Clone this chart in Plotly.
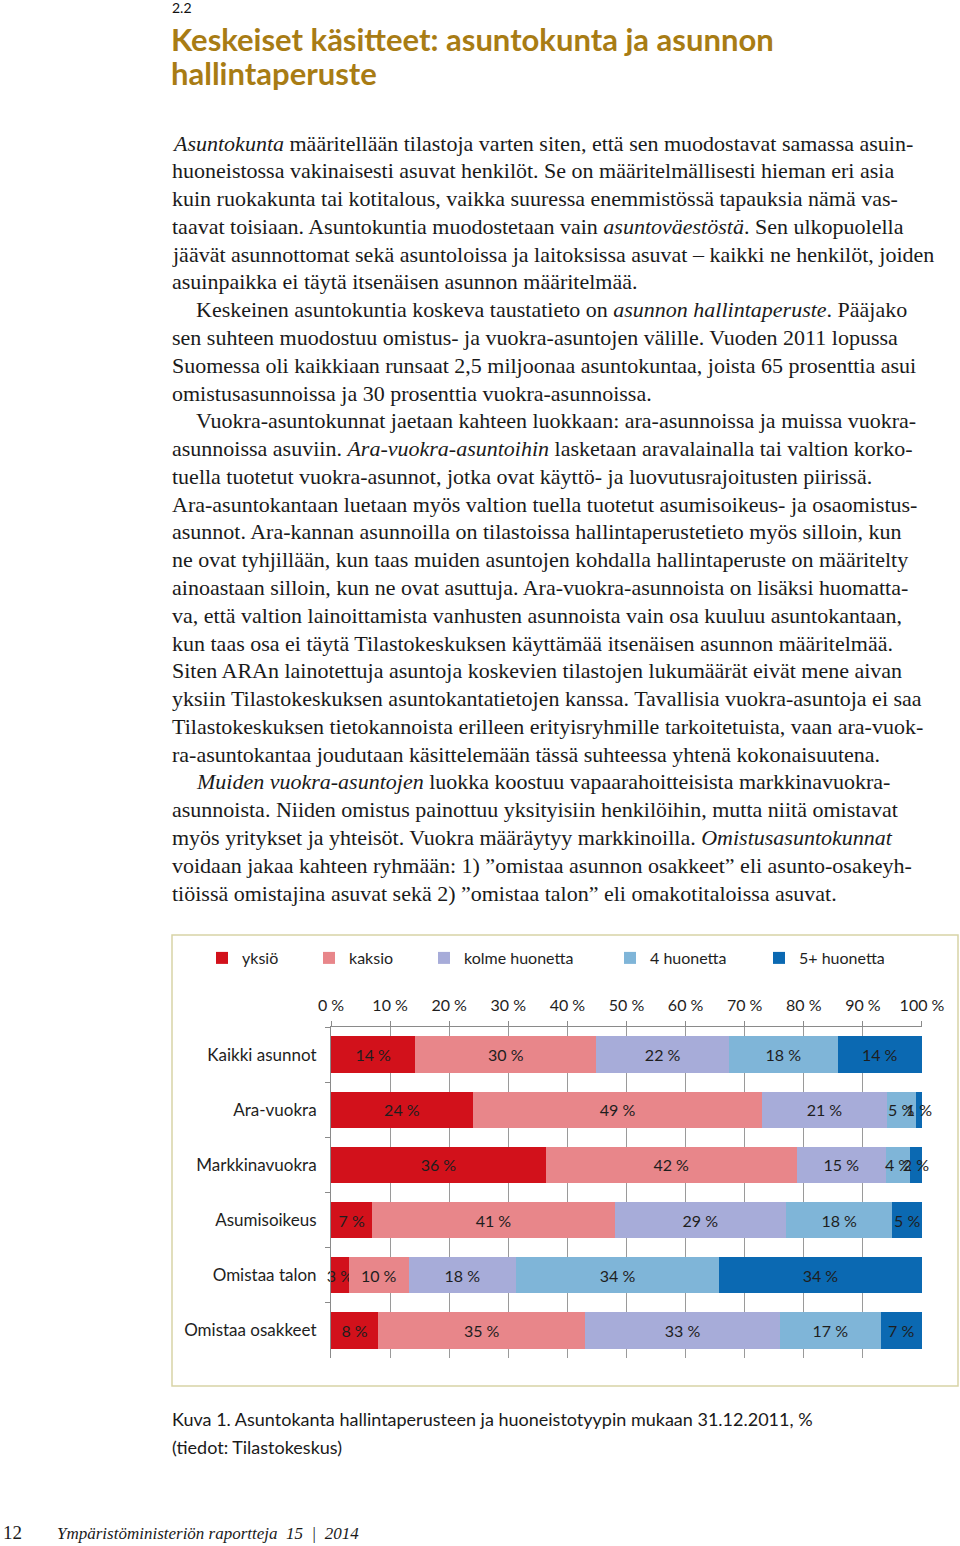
import plotly.graph_objects as go

W, H = 960, 1546

# ---------------- data ----------------
categories = ["Kaikki asunnot", "Ara-vuokra", "Markkinavuokra", "Asumisoikeus",
              "Omistaa talon", "Omistaa osakkeet"]
series_names = ["yksiö", "kaksio", "kolme huonetta", "4 huonetta", "5+ huonetta"]
yksio = [14, 24, 36, 7, 3, 8]
kaksio = [30, 49, 42, 41, 10, 35]
kolme = [22, 21, 15, 29, 18, 33]
nelja = [18, 5, 4, 18, 34, 17]
viisi = [14, 1, 2, 5, 34, 7]
series_values = [yksio, kaksio, kolme, nelja, viisi]
colors = ["#d2111b", "#e8868a", "#a7acd9", "#7fb5d8", "#0b69b2"]
tick_vals = [0, 10, 20, 30, 40, 50, 60, 70, 80, 90, 100]

# legend text start positions (px) in the reference
legend_text_x = [240, 347, 462, 648, 797]

body_lines = [
    (0, "<i>Asuntokunta</i> määritellään tilastoja varten siten, että sen muodostavat samassa asuin-"),
    (0, "huoneistossa vakinaisesti asuvat henkilöt. Se on määritelmällisesti hieman eri asia"),
    (0, "kuin ruokakunta tai kotitalous, vaikka suuressa enemmistössä tapauksia nämä vas-"),
    (0, "taavat toisiaan. Asuntokuntia muodostetaan vain <i>asuntoväestöstä</i>. Sen ulkopuolella"),
    (0, "jäävät asunnottomat sekä asuntoloissa ja laitoksissa asuvat – kaikki ne henkilöt, joiden"),
    (0, "asuinpaikka ei täytä itsenäisen asunnon määritelmää."),
    (1, "Keskeinen asuntokuntia koskeva taustatieto on <i>asunnon hallintaperuste</i>. Pääjako"),
    (0, "sen suhteen muodostuu omistus- ja vuokra-asuntojen välille. Vuoden 2011 lopussa"),
    (0, "Suomessa oli kaikkiaan runsaat 2,5 miljoonaa asuntokuntaa, joista 65 prosenttia asui"),
    (0, "omistusasunnoissa ja 30 prosenttia vuokra-asunnoissa."),
    (1, "Vuokra-asuntokunnat jaetaan kahteen luokkaan: ara-asunnoissa ja muissa vuokra-"),
    (0, "asunnoissa asuviin. <i>Ara-vuokra-asuntoihin</i> lasketaan aravalainalla tai valtion korko-"),
    (0, "tuella tuotetut vuokra-asunnot, jotka ovat käyttö- ja luovutusrajoitusten piirissä."),
    (0, "Ara-asuntokantaan luetaan myös valtion tuella tuotetut asumisoikeus- ja osaomistus-"),
    (0, "asunnot. Ara-kannan asunnoilla on tilastoissa hallintaperustetieto myös silloin, kun"),
    (0, "ne ovat tyhjillään, kun taas muiden asuntojen kohdalla hallintaperuste on määritelty"),
    (0, "ainoastaan silloin, kun ne ovat asuttuja. Ara-vuokra-asunnoista on lisäksi huomatta-"),
    (0, "va, että valtion lainoittamista vanhusten asunnoista vain osa kuuluu asuntokantaan,"),
    (0, "kun taas osa ei täytä Tilastokeskuksen käyttämää itsenäisen asunnon määritelmää."),
    (0, "Siten ARAn lainotettuja asuntoja koskevien tilastojen lukumäärät eivät mene aivan"),
    (0, "yksiin Tilastokeskuksen asuntokantatietojen kanssa. Tavallisia vuokra-asuntoja ei saa"),
    (0, "Tilastokeskuksen tietokannoista erilleen erityisryhmille tarkoitetuista, vaan ara-vuok-"),
    (0, "ra-asuntokantaa joudutaan käsittelemään tässä suhteessa yhtenä kokonaisuutena."),
    (1, "<i>Muiden vuokra-asuntojen</i> luokka koostuu vapaarahoitteisista markkinavuokra-"),
    (0, "asunnoista. Niiden omistus painottuu yksityisiin henkilöihin, mutta niitä omistavat"),
    (0, "myös yritykset ja yhteisöt. Vuokra määräytyy markkinoilla. <i>Omistusasuntokunnat</i>"),
    (0, "voidaan jakaa kahteen ryhmään: 1) ”omistaa asunnon osakkeet” eli asunto-osakeyh-"),
    (0, "tiöissä omistajina asuvat sekä 2) ”omistaa talon” eli omakotitaloissa asuvat."),
]


def px(x):
    return x / W


def py(y):
    return 1 - y / H


SANS = "Lato, 'Open Sans', sans-serif"
SERIF = "'Liberation Serif', 'DejaVu Serif', serif"

fig = go.Figure()

legend_ids = ["legend", "legend2", "legend3", "legend4", "legend5"]
for name, vals, col, lid in zip(series_names, series_values, colors, legend_ids):
    fig.add_trace(go.Bar(
        y=categories, x=vals, name=name, orientation="h",
        marker=dict(color=col, line=dict(width=0)),
        text=[f"{v} %" for v in vals],
        textposition="inside", insidetextanchor="middle", textangle=0,
        textfont=dict(family=SANS, size=16, color="#1e1e1e"),
        cliponaxis=False, hoverinfo="skip",
        legend=lid,
    ))

layout_legends = {}
for lid, tx in zip(legend_ids, legend_text_x):
    layout_legends[lid] = dict(
        x=px(tx - 38), y=py(958), xanchor="left", yanchor="middle",
        orientation="h", bgcolor="rgba(0,0,0,0)",
        font=dict(family=SANS, size=16, color="#1e1e1e"),
        itemwidth=30, traceorder="normal",
    )

annotations = []
# section number and heading
annotations.append(dict(x=px(170), y=py(8), xref="paper", yref="paper",
                        xanchor="left", yanchor="middle", showarrow=False,
                        text="2.2", font=dict(family=SANS, size=14, color="#111")))
for t, yy in [("Keskeiset käsitteet: asuntokunta ja asunnon", 39),
              ("hallintaperuste", 73)]:
    annotations.append(dict(x=px(169), y=py(yy), xref="paper", yref="paper",
                            xanchor="left", yanchor="middle", showarrow=False,
                            text=f"<b>{t}</b>",
                            font=dict(family=SANS, size=31, color="#a87c14")))

# body text
y0, dy = 143, 27.78
for i, (ind, t) in enumerate(body_lines):
    annotations.append(dict(x=px(170 + 24 * ind), y=py(y0 + i * dy),
                            xref="paper", yref="paper",
                            xanchor="left", yanchor="middle", showarrow=False,
                            text=t, font=dict(family=SERIF, size=22, color="#1a1a1a")))

# caption
for t, yy in [("Kuva 1. Asuntokanta hallintaperusteen ja huoneistotyypin mukaan 31.12.2011, %", 1419),
              ("(tiedot: Tilastokeskus)", 1447)]:
    annotations.append(dict(x=px(170), y=py(yy), xref="paper", yref="paper",
                            xanchor="left", yanchor="middle", showarrow=False,
                            text=t, font=dict(family=SANS, size=18, color="#1a1a1a")))

# footer
annotations.append(dict(x=px(1), y=py(1532), xref="paper", yref="paper",
                        xanchor="left", yanchor="middle", showarrow=False,
                        text="12", font=dict(family=SERIF, size=19, color="#1a1a1a")))
annotations.append(dict(x=px(55), y=py(1533), xref="paper", yref="paper",
                        xanchor="left", yanchor="middle", showarrow=False,
                        text="<i>Ympäristöministeriön raportteja  15  |  2014</i>",
                        font=dict(family=SERIF, size=17, color="#1a1a1a")))

shapes = [dict(type="rect", xref="paper", yref="paper",
               x0=px(172), x1=px(958), y0=py(1386), y1=py(935),
               line=dict(color="#d8d4a6", width=1.5), fillcolor="white", layer="below")]

fig.update_layout(
    template="none",
    width=W, height=H,
    margin=dict(l=0, r=0, t=0, b=0),
    paper_bgcolor="white", plot_bgcolor="rgba(0,0,0,0)",
    barmode="stack", barnorm="percent", bargap=0.34,
    showlegend=True,
    uniformtext=dict(mode="show", minsize=16),
    annotations=annotations, shapes=shapes,
    xaxis=dict(domain=[px(331), px(922)], range=[0, 100.001], side="top",
               tickmode="array", tickvals=tick_vals,
               ticktext=[f"{v} %" for v in tick_vals],
               showgrid=True, gridcolor="#9a9a9a", gridwidth=1,
               zeroline=False, showline=True, linecolor="#8a8a8a", linewidth=1,
               ticks="outside", ticklen=5, tickcolor="#8a8a8a",
               ticklabelstandoff=4,
               tickfont=dict(family=SANS, size=16, color="#1e1e1e"),
               automargin=False, fixedrange=True),
    yaxis=dict(domain=[py(1358), py(1027)], autorange="reversed",
               type="category", showgrid=False, zeroline=False,
               showline=True, linecolor="#8a8a8a", linewidth=1,
               ticks="outside", ticklen=5, tickcolor="#8a8a8a",
               tickson="boundaries", ticklabelstandoff=10,
               tickfont=dict(family=SANS, size=17, color="#1e1e1e"),
               automargin=False, fixedrange=True),
    **layout_legends,
)

fig.write_html("out.html", config={"displayModeBar": False},
               post_script="document.body.style.margin='0';")
